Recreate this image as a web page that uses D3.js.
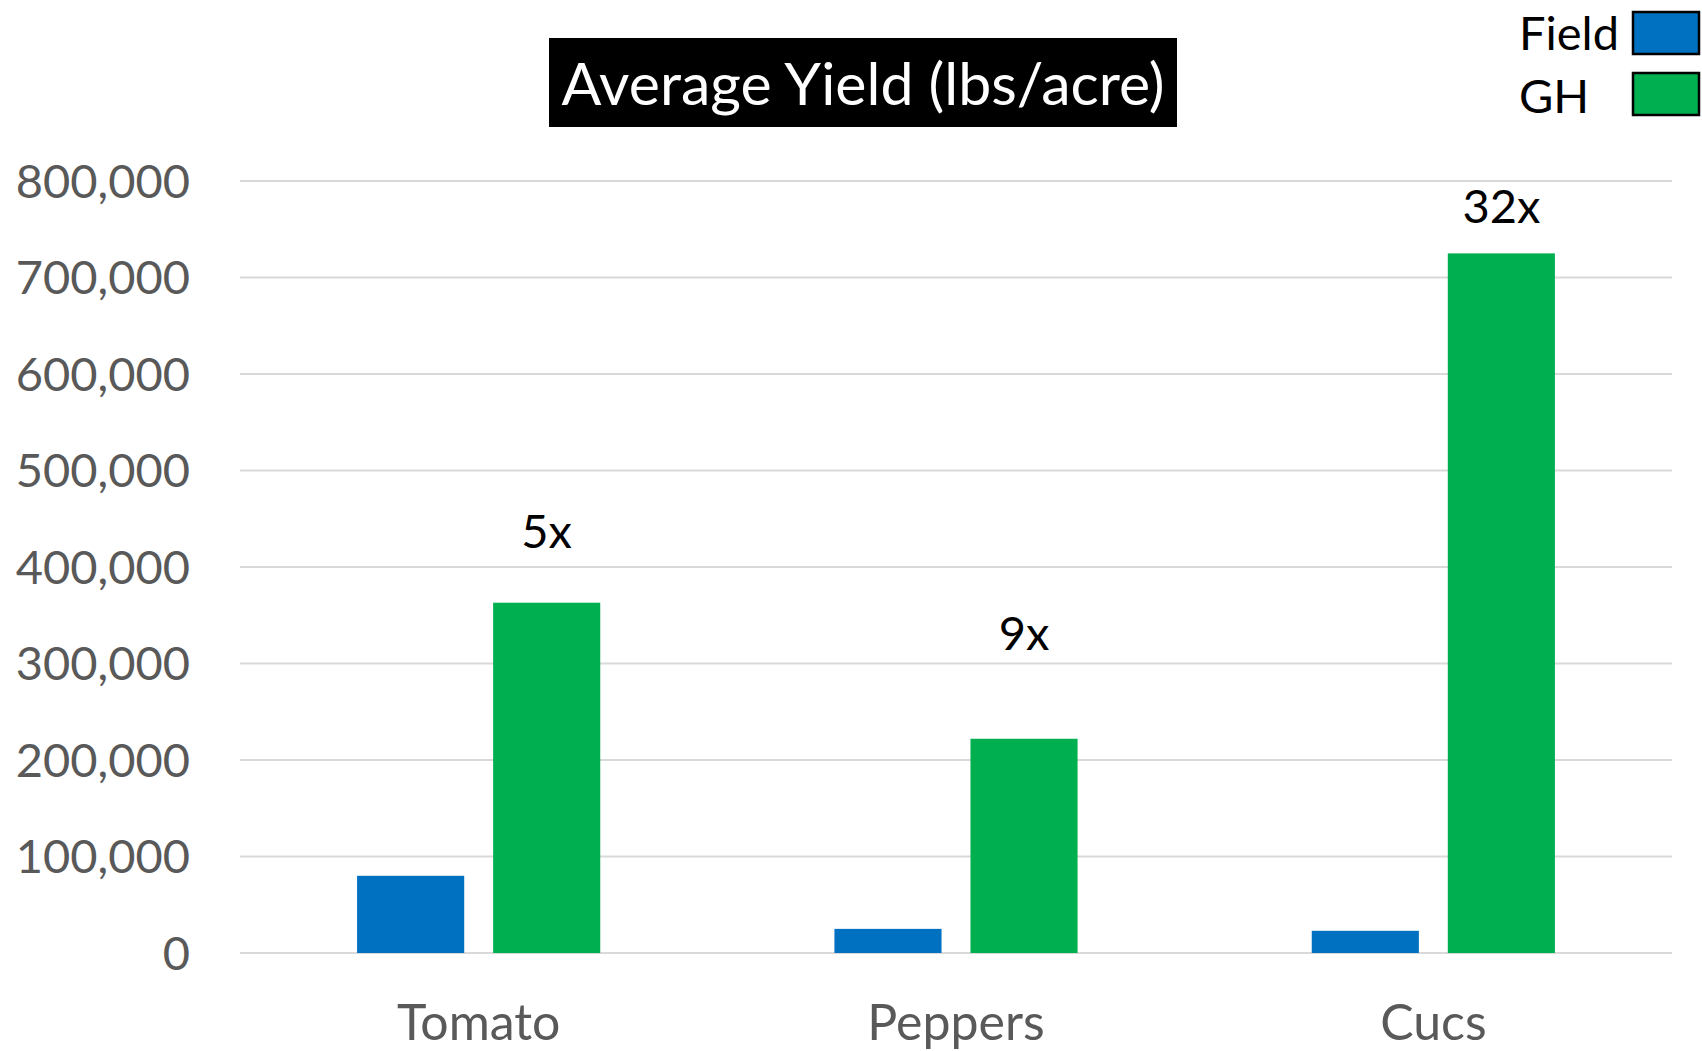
<!DOCTYPE html>
<html>
<head>
<meta charset="utf-8">
<script src="https://cdn.jsdelivr.net/npm/d3@7"></script>
<style>
  html, body { margin: 0; padding: 0; background: #ffffff; }
  svg { display: block; }
</style>
</head>
<body>
<svg id="chart" width="1702" height="1051"></svg>
<script>
// Average yield per acre, field-grown vs greenhouse (GH)
const categories = ["Tomato", "Peppers", "Cucs"];
const seriesNames = ["Field", "GH"];
const fieldValues = [80000, 25000, 23000];
const ghValues = [363000, 222000, 725000];
const ratioLabels = ["5x", "9x", "32x"];
// value level (lbs/acre) at which each ratio annotation sits
const ratioLabelLevels = [420000, 314000, 756000];
const yTicks = [0, 100000, 200000, 300000, 400000, 500000, 600000, 700000, 800000];

const colors = { Field: "#0070C0", GH: "#00B050" };
const FONT = "Lato, 'Open Sans', sans-serif";

const svg = d3.select("#chart");
const plot = { left: 240, right: 1672, top: 181, bottom: 953 };

const y = d3.scaleLinear().domain([0, 800000]).range([plot.bottom, plot.top]);
const x0 = d3.scaleBand().domain(categories)
  .range([plot.left, plot.right])
  .paddingInner(0.4906).paddingOuter(0.2453);
const x1 = d3.scaleBand().domain(seriesNames)
  .range([0, x0.bandwidth()])
  .paddingInner(0.2126);

// gridlines
svg.append("g").selectAll("line").data(yTicks).join("line")
  .attr("x1", plot.left).attr("x2", plot.right)
  .attr("y1", d => y(d)).attr("y2", d => y(d))
  .attr("stroke", "#d9d9d9").attr("stroke-width", 2);

// y axis labels
const fmt = d3.format(",");
svg.append("g").selectAll("text").data(yTicks).join("text")
  .attr("x", 190).attr("y", d => y(d)).attr("dy", "0.36em")
  .attr("text-anchor", "end")
  .attr("font-family", FONT).attr("font-size", 47)
  .attr("fill", "#595959")
  .text(d => fmt(d));

// bars
const rows = categories.map((c, i) => ({ cat: c, Field: fieldValues[i], GH: ghValues[i] }));
const groups = svg.append("g").selectAll("g").data(rows).join("g")
  .attr("transform", d => `translate(${x0(d.cat)},0)`);
groups.selectAll("rect")
  .data(d => seriesNames.map(s => ({ s, v: d[s] })))
  .join("rect")
  .attr("x", d => x1(d.s))
  .attr("width", x1.bandwidth())
  .attr("y", d => y(d.v))
  .attr("height", d => y(0) - y(d.v))
  .attr("fill", d => colors[d.s]);

// category labels
svg.append("g").selectAll("text").data(categories).join("text")
  .attr("x", d => x0(d) + x0.bandwidth() / 2)
  .attr("y", 1040)
  .attr("text-anchor", "middle")
  .attr("font-family", FONT).attr("font-size", 50)
  .attr("fill", "#595959")
  .text(d => d);

// ratio annotations above greenhouse bars
svg.append("g").selectAll("text").data(categories).join("text")
  .attr("x", d => x0(d) + x1("GH") + x1.bandwidth() / 2)
  .attr("y", (d, i) => y(ratioLabelLevels[i]))
  .attr("text-anchor", "middle")
  .attr("font-family", FONT).attr("font-size", 47)
  .attr("fill", "#000000")
  .text((d, i) => ratioLabels[i]);

// title
const titleG = svg.append("g");
titleG.append("rect")
  .attr("x", 549).attr("y", 38).attr("width", 628).attr("height", 89)
  .attr("fill", "#000000");
titleG.append("text")
  .attr("x", 863).attr("y", 105)
  .attr("text-anchor", "middle")
  .attr("font-family", FONT).attr("font-size", 59)
  .attr("fill", "#ffffff")
  .text("Average Yield (lbs/acre)");

// legend
const legend = svg.append("g").selectAll("g").data(seriesNames).join("g");
legend.append("rect")
  .attr("x", 1633).attr("y", (d, i) => 12 + i * 61)
  .attr("width", 66).attr("height", 42)
  .attr("fill", d => colors[d])
  .attr("stroke", "#000000").attr("stroke-width", 2.5);
legend.append("text")
  .attr("x", 1519).attr("y", (d, i) => 50 + i * 63)
  .attr("text-anchor", "start")
  .attr("font-family", FONT).attr("font-size", 47)
  .attr("fill", "#000000")
  .text(d => d);
</script>
</body>
</html>
